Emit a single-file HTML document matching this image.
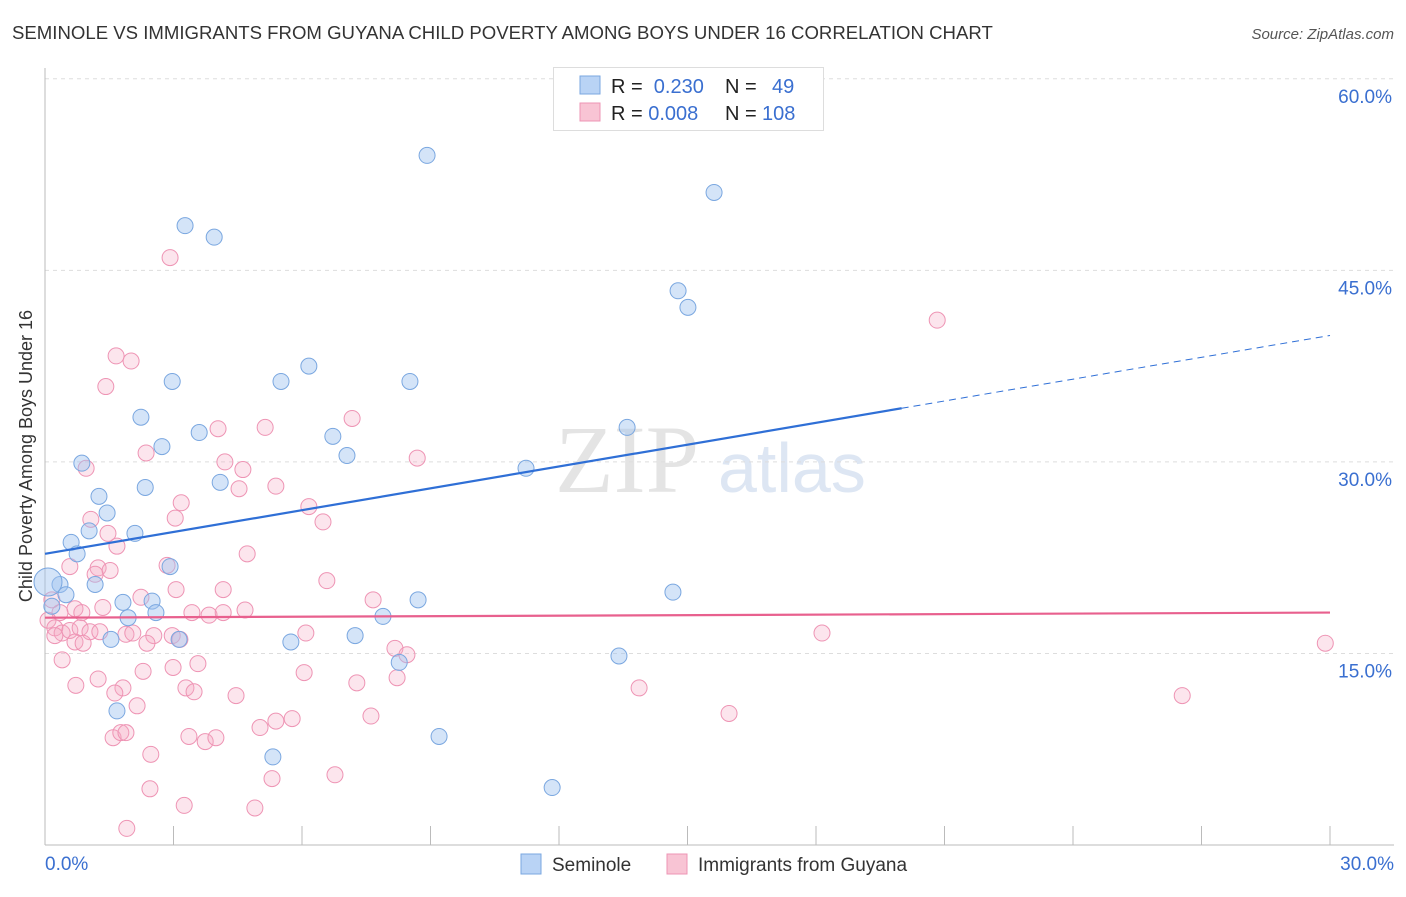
<!DOCTYPE html>
<html><head><meta charset="utf-8"><style>
body{margin:0;background:#fff;font-family:"Liberation Sans",sans-serif;}
</style></head><body>
<svg id="chart" width="1406" height="892" xmlns="http://www.w3.org/2000/svg">
<text x="12" y="39" font-size="18.6" fill="#333">SEMINOLE VS IMMIGRANTS FROM GUYANA CHILD POVERTY AMONG BOYS UNDER 16 CORRELATION CHART</text>
<text x="1394" y="39" font-size="15" fill="#555" font-style="italic" text-anchor="end">Source: ZipAtlas.com</text>
<text x="32" y="456" font-size="18" fill="#333" text-anchor="middle" transform="rotate(-90 32 456)">Child Poverty Among Boys Under 16</text>
<text x="555" y="492" font-size="96" fill="#e4e4e4" font-family="Liberation Serif,serif">ZIP</text>
<text x="718" y="492" font-size="70" fill="#dde6f3">atlas</text>
<g id="grid"></g><g id="pts"></g><g id="lines"></g>
<g>
<rect x="553.5" y="67.5" width="270" height="63" fill="#fff" stroke="#ddd"/>
<rect x="580" y="76" width="20" height="18" fill="#b9d3f5" stroke="#7aa7e0"/>
<rect x="580" y="103" width="20" height="18" fill="#f8c4d4" stroke="#ee94b4"/>
<text x="611" y="93" font-size="20" fill="#222">R = <tspan fill="#3a6fd0">&#160;0.230</tspan><tspan x="725">N = </tspan><tspan x="772" fill="#3a6fd0">49</tspan></text>
<text x="611" y="120" font-size="20" fill="#222">R = <tspan fill="#3a6fd0">0.008</tspan><tspan x="725">N = </tspan><tspan x="762" fill="#3a6fd0">108</tspan></text>
</g>
<g>
<rect x="521" y="854" width="20" height="20" fill="#b9d3f5" stroke="#7aa7e0"/>
<text x="552" y="871" font-size="19" fill="#333">Seminole</text>
<rect x="667" y="854" width="20" height="20" fill="#f8c4d4" stroke="#ee94b4"/>
<text x="698" y="871" font-size="19" fill="#333">Immigrants from Guyana</text>
</g>
</svg>
<script>
const yTicks=[15,30,45,60];
const yTickLabels=["15.0%","30.0%","45.0%","60.0%"];
const xTicks=[0,3,6,9,12,15,18,21,24,27,30];
const xLabels=["0.0%","30.0%"];
const blueX=[8.92,15.62,3.27,3.95,14.78,15.01,6.16,2.97,5.51,8.52,2.24,13.59,3.60,2.73,6.72,7.05,0.86,11.23,4.09,2.34,1.26,1.45,1.03,2.10,0.61,0.75,2.92,0.35,1.17,0.49,14.66,8.71,1.82,2.50,2.59,0.16,7.89,1.94,1.54,3.13,5.74,7.24,8.27,13.40,1.68,5.32,9.20,11.84,0.07];
const blueY=[54.0,51.1,48.5,47.6,43.4,42.1,37.5,36.3,36.3,36.3,33.5,32.7,32.3,31.2,32.0,30.5,29.9,29.5,28.4,28.0,27.3,26.0,24.6,24.4,23.7,22.8,21.8,20.4,20.4,19.6,19.8,19.2,19.0,19.1,18.2,18.7,17.9,17.8,16.1,16.1,15.9,16.4,14.3,14.8,10.5,6.9,8.5,4.5,20.6];
const pinkX=[2.92,20.83,1.66,2.01,1.42,7.17,4.04,5.14,2.36,4.20,8.69,0.96,4.62,5.39,4.53,3.18,3.04,6.16,6.49,1.07,1.68,1.47,4.72,0.58,2.85,1.24,1.17,1.52,3.06,6.58,4.16,2.24,7.66,1.35,0.70,3.43,3.83,4.16,4.67,0.16,0.35,0.86,0.07,0.23,0.40,0.58,0.82,1.05,1.28,1.89,2.05,2.54,2.97,3.15,6.09,18.14,29.89,0.23,0.70,0.89,2.38,8.17,8.45,0.40,2.29,2.99,3.57,6.05,0.72,1.24,3.29,3.48,1.82,1.63,4.46,7.28,8.22,13.87,26.55,2.15,5.77,5.39,5.02,7.61,15.97,1.59,1.77,1.89,3.36,3.74,3.99,2.47,5.30,6.77,2.45,3.25,4.90,1.91];
const pinkY=[46.0,41.1,38.3,37.9,35.9,33.4,32.6,32.7,30.7,30.0,30.3,29.5,29.4,28.1,27.9,26.8,25.6,26.5,25.3,25.5,23.4,24.4,22.8,21.8,21.9,21.7,21.2,21.5,20.0,20.7,20.0,19.4,19.2,18.6,18.5,18.2,18.0,18.2,18.4,19.2,18.2,18.2,17.6,17.0,16.6,16.8,17.0,16.7,16.7,16.5,16.6,16.4,16.4,16.1,16.6,16.6,15.8,16.4,15.9,15.8,15.8,15.4,14.9,14.5,13.6,13.9,14.2,13.5,12.5,13.0,12.3,12.0,12.3,11.9,11.7,12.7,13.1,12.3,11.7,10.9,9.9,9.7,9.2,10.1,10.3,8.4,8.8,8.8,8.5,8.1,8.4,7.1,5.2,5.5,4.4,3.1,2.9,1.3];
const blueTrend=[22.8,34.2,39.9];
const blueTrendX=[0,20,30];
const pinkTrend=[17.8,18.2];
const pinkTrendX=[0,30];
const NS="http://www.w3.org/2000/svg";
const sx=v=>45+v*(1285/30);
const sy=v=>845-v*12.77;
function mk(tag,attrs,parent){const e=document.createElementNS(NS,tag);for(const k in attrs)e.setAttribute(k,attrs[k]);parent.appendChild(e);return e;}
const grid=document.getElementById('grid');
yTicks.forEach((t,i)=>{
 const l=mk('line',{x1:45,x2:1394,y1:sy(t),y2:sy(t),stroke:'#ddd','stroke-dasharray':'4,4'},grid);
 
 
 const tx=mk('text',{x:1392,y:sy(t)+24,'font-size':19,fill:'#3a6fd0','text-anchor':'end'},grid);
 tx.textContent=yTickLabels[i];
 
 
});
const ax=mk('line',{x1:45,x2:45,y1:68,y2:845,stroke:'#bbb'},grid);


const bx=mk('line',{x1:45,x2:1394,y1:845,y2:845,stroke:'#bbb'},grid);


xTicks.forEach(t=>{
 const l=mk('line',{x1:sx(t),x2:sx(t),y1:826,y2:845,stroke:'#bbb'},grid);
 
 
});
[[0,'start',45],[30,'end',1394]].forEach((d,i)=>{
 const tx=mk('text',{x:d[2],y:870,'font-size':19,fill:'#3a6fd0','text-anchor':d[1]},grid);
 tx.textContent=xLabels[i];
 
 
});
const pts=document.getElementById('pts');
pinkX.forEach((x,i)=>{
 const c=mk('circle',{cx:sx(x),cy:sy(pinkY[i]),r:8,fill:'rgba(245,170,195,0.3)',stroke:'#ee94b4','stroke-width':1},pts);
 
 
});
blueX.forEach((x,i)=>{
 const big=(i===blueX.length-1);
 const c=mk('circle',{cx:sx(x),cy:sy(blueY[i]),r:big?14:8,fill:'rgba(160,196,240,0.45)',stroke:'#7aa7e0','stroke-width':1},pts);
 
 
});
const lines=document.getElementById('lines');
const b1=mk('line',{x1:sx(blueTrendX[0]),y1:sy(blueTrend[0]),x2:sx(blueTrendX[1]),y2:sy(blueTrend[1]),stroke:'#2f6fd6','stroke-width':2.2},lines);


const b2=mk('line',{x1:sx(blueTrendX[1]),y1:sy(blueTrend[1]),x2:sx(blueTrendX[2]),y2:sy(blueTrend[2]),stroke:'#2f6fd6','stroke-width':1,'stroke-dasharray':'7,5'},lines);


const p1=mk('line',{x1:sx(pinkTrendX[0]),y1:sy(pinkTrend[0]),x2:sx(pinkTrendX[1]),y2:sy(pinkTrend[1]),stroke:'#e8608e','stroke-width':2.2},lines);


</script>
</body></html>
